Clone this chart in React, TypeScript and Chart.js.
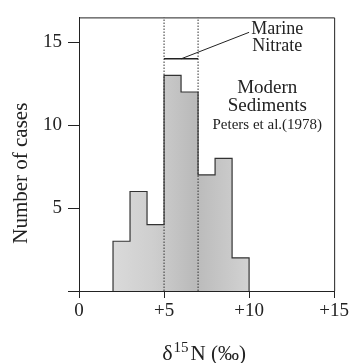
import React, { useEffect, useRef } from "react";
import { Chart, registerables } from "chart.js";

Chart.register(...registerables);

// Histogram bins (δ15N ‰) and counts
const binEdges = [2, 3, 4, 5, 6, 7, 8, 9, 10];
const counts = [3, 6, 4, 13, 12, 7, 8, 2];
// Marine nitrate range
const marineRange = [5, 7];
const marineLevel = 14;
const xTicks = [0, 5, 10, 15];
const yTicks = [0, 5, 10, 15];

const FONT = '"Liberation Serif", "Times New Roman", serif';
const INK = "#222";

function outlinePoints() {
  const pts: { x: number; y: number }[] = [];
  pts.push({ x: binEdges[0], y: 0 });
  counts.forEach((c, i) => {
    pts.push({ x: binEdges[i], y: c });
    pts.push({ x: binEdges[i + 1], y: c });
  });
  pts.push({ x: binEdges[binEdges.length - 1], y: 0 });
  return pts;
}

const annotationPlugin = {
  id: "annot",
  afterDraw(chart: any) {
    const { ctx, chartArea, scales } = chart;
    const xs = scales.x;
    const ys = scales.y;
    ctx.save();
    // frame
    ctx.strokeStyle = INK;
    ctx.lineWidth = 1;
    ctx.beginPath();
    ctx.moveTo(chartArea.left, chartArea.top + 0.5);
    ctx.lineTo(chartArea.right + 0.5, chartArea.top + 0.5);
    ctx.lineTo(chartArea.right + 0.5, chartArea.bottom);
    ctx.stroke();

    ctx.fillStyle = INK;
    ctx.textAlign = "center";
    ctx.textBaseline = "middle";
    ctx.font = `18px ${FONT}`;
    ctx.fillText("Marine", xs.getPixelForValue(11.65), ys.getPixelForValue(15.77));
    ctx.fillText("Nitrate", xs.getPixelForValue(11.65), ys.getPixelForValue(14.74));
    ctx.font = `19px ${FONT}`;
    ctx.fillText("Modern", xs.getPixelForValue(11.07), ys.getPixelForValue(12.26));
    ctx.fillText("Sediments", xs.getPixelForValue(11.07), ys.getPixelForValue(11.18));
    ctx.font = `15px ${FONT}`;
    ctx.fillText("Peters et al.(1978)", xs.getPixelForValue(11.07), ys.getPixelForValue(10.0));

    // y title
    ctx.save();
    ctx.font = `21px ${FONT}`;
    ctx.translate(21, (chartArea.top + chartArea.bottom) / 2 + 19);
    ctx.rotate(-Math.PI / 2);
    ctx.fillText("Number of cases", 0, 0);
    ctx.restore();

    // x title: δ15N (‰)
    const cy = 353;
    const p1 = "δ";
    const p2 = "15";
    const p3 = "N (‰)";
    ctx.textAlign = "left";
    ctx.textBaseline = "alphabetic";
    ctx.font = `22px ${FONT}`;
    const w1 = ctx.measureText(p1).width;
    ctx.font = `21px ${FONT}`;
    const w3 = ctx.measureText(p3).width;
    ctx.font = `15px ${FONT}`;
    const w2 = ctx.measureText(p2).width;
    const total = w1 + w2 + 2 + w3;
    let x0 = (chartArea.left + chartArea.right) / 2 - total / 2 - 3;
    const base = cy + 7;
    ctx.font = `22px ${FONT}`;
    ctx.fillText(p1, x0, base);
    x0 += w1 + 1;
    ctx.font = `15px ${FONT}`;
    ctx.fillText(p2, x0, base - 8);
    x0 += w2 + 2;
    ctx.font = `21px ${FONT}`;
    ctx.fillText(p3, x0, base);
    ctx.restore();
  },
};

export default function App() {
  const ref = useRef<HTMLCanvasElement>(null);
  useEffect(() => {
    if (!ref.current) return;
    const chart = new Chart(ref.current, {
      type: "line",
      data: {
        datasets: [
          {
            data: outlinePoints(),
            borderColor: "#333",
            borderWidth: 1.2,
            pointRadius: 0,
            fill: "origin",
            backgroundColor: (context: any) => {
              const ch = context.chart;
              const { chartArea, scales } = ch;
              if (!chartArea) return "#c8c8c8";
              const xa = scales.x.getPixelForValue(binEdges[0]);
              const xb = scales.x.getPixelForValue(binEdges[binEdges.length - 1]);
              const g = ch.ctx.createLinearGradient(xa, 0, xb, 0);
              g.addColorStop(0, "#dadada");
              g.addColorStop(0.3, "#cecece");
              g.addColorStop(0.6, "#bababa");
              g.addColorStop(1, "#d2d2d2");
              return g;
            },
            tension: 0,
            order: 3,
          } as any,
          ...marineRange.map((v) => ({
            data: [
              { x: v, y: 0 },
              { x: v, y: 16.5 },
            ],
            borderColor: "#333",
            borderWidth: 1,
            borderDash: [1.5, 1.5],
            pointRadius: 0,
            fill: false,
            order: 1,
          })),
          {
            data: marineRange.map((v) => ({ x: v, y: marineLevel })),
            borderColor: "#222",
            borderWidth: 1.5,
            pointRadius: 0,
            fill: false,
            order: 0,
          },
          {
            data: [
              { x: (marineRange[0] + marineRange[1]) / 2, y: marineLevel },
              { x: 10.0, y: 15.6 },
            ],
            borderColor: "#222",
            borderWidth: 1,
            pointRadius: 0,
            fill: false,
            order: 0,
          },
        ],
      },
      options: {
        animation: false,
        responsive: false,
        events: [],
        layout: { padding: { top: 9, right: 16, left: 0, bottom: 0 } },
        plugins: { legend: { display: false }, tooltip: { enabled: false } },
        scales: {
          x: {
            type: "linear",
            min: 0,
            max: 15,
            afterFit: (s: any) => {
              s.height = 72;
            },
            afterBuildTicks: (s: any) => {
              s.ticks = xTicks.map((v) => ({ value: v }));
            },
            ticks: {
              color: INK,
              font: { family: FONT, size: 19 },
              padding: 2,
              maxRotation: 0,
              callback: (v: any) => (v === 0 ? "0" : "+" + v),
            },
            grid: {
              drawOnChartArea: false,
              drawTicks: true,
              tickLength: 7,
              color: INK,
            },
            border: { display: true, color: INK, width: 1 },
          },
          y: {
            type: "linear",
            min: 0,
            max: 16.5,
            afterFit: (s: any) => {
              s.width = 79;
            },
            afterBuildTicks: (s: any) => {
              s.ticks = yTicks.map((v) => ({ value: v }));
            },
            ticks: {
              color: INK,
              font: { family: FONT, size: 19 },
              padding: 6,
              callback: (v: any) => (v === 0 ? "" : String(v)),
            },
            grid: {
              drawOnChartArea: false,
              drawTicks: true,
              tickLength: 11,
              color: INK,
            },
            border: { display: true, color: INK, width: 1 },
          },
        },
      },
      plugins: [annotationPlugin],
    } as any);
    return () => chart.destroy();
  }, []);
  return (
    <div style={{ position: "absolute", left: 0, top: 0, width: 351, height: 363, background: "#fff" }}>
      <canvas ref={ref} width={351} height={363} style={{ display: "block" }} />
    </div>
  );
}
